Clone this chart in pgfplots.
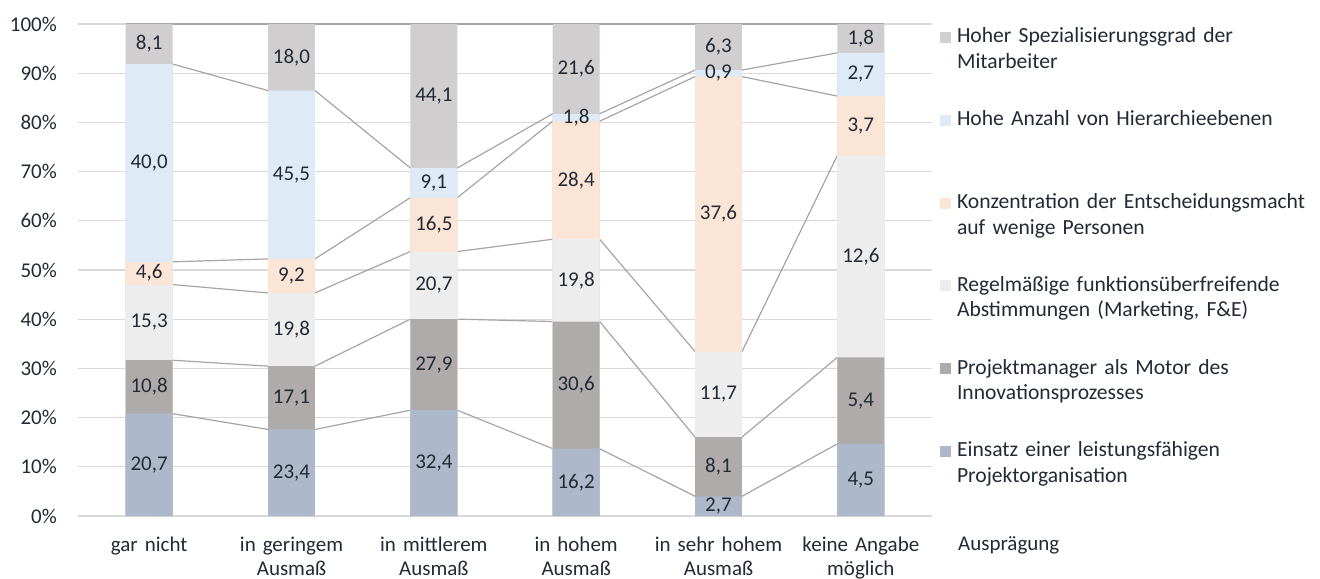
\documentclass[border=0pt]{standalone}
\usepackage{fontspec}
\setmainfont{Carlito}
\usepackage{pgfplots}
\pgfplotsset{compat=1.18}
\usepackage{pgfplotstable}

\definecolor{txt}{HTML}{222A35}
\definecolor{gridc}{HTML}{D9D9D9}
\definecolor{serl}{HTML}{A5A5A5}
\definecolor{cA}{HTML}{ADB9CA}
\definecolor{cB}{HTML}{AFABAB}
\definecolor{cC}{HTML}{EDEDED}
\definecolor{cD}{HTML}{FBE5D6}
\definecolor{cE}{HTML}{DEEBF7}
\definecolor{cF}{HTML}{D0CECE}

% answers per category (x = category index)
\pgfplotstableread{
x a b c d e f
0 20.7 10.8 15.3 4.6 40.0 8.1
1 23.4 17.1 19.8 9.2 45.5 18.0
2 32.4 27.9 20.7 16.5 9.1 44.1
3 16.2 30.6 19.8 28.4 1.8 21.6
4 2.7 8.1 11.7 37.6 0.9 6.3
5 4.5 5.4 12.6 3.7 2.7 1.8
}\data

% the same rows at the left and right edge of each bar, for the series lines
\pgfplotstableread{
x a b c d e f
-0.165 20.7 10.8 15.3 4.6 40.0 8.1
0.165 20.7 10.8 15.3 4.6 40.0 8.1
0.835 23.4 17.1 19.8 9.2 45.5 18.0
1.165 23.4 17.1 19.8 9.2 45.5 18.0
1.835 32.4 27.9 20.7 16.5 9.1 44.1
2.165 32.4 27.9 20.7 16.5 9.1 44.1
2.835 16.2 30.6 19.8 28.4 1.8 21.6
3.165 16.2 30.6 19.8 28.4 1.8 21.6
3.835 2.7 8.1 11.7 37.6 0.9 6.3
4.165 2.7 8.1 11.7 37.6 0.9 6.3
4.835 4.5 5.4 12.6 3.7 2.7 1.8
5.165 4.5 5.4 12.6 3.7 2.7 1.8
}\edges

% cumulative sums of a row
\newcommand{\cumA}{(\thisrow{a})}
\newcommand{\cumB}{(\thisrow{a}+\thisrow{b})}
\newcommand{\cumC}{(\thisrow{a}+\thisrow{b}+\thisrow{c})}
\newcommand{\cumD}{(\thisrow{a}+\thisrow{b}+\thisrow{c}+\thisrow{d})}
\newcommand{\cumE}{(\thisrow{a}+\thisrow{b}+\thisrow{c}+\thisrow{d}+\thisrow{e})}
\newcommand{\tot}{(\thisrow{a}+\thisrow{b}+\thisrow{c}+\thisrow{d}+\thisrow{e}+\thisrow{f})}

\pgfplotsset{
  segbar/.style={ybar, bar width=0.33, bar shift=0pt, fill=#1, draw=none},
  serline/.style={draw=serl, line width=1.2bp, mark=none, forget plot},
  seglabel/.style={only marks, mark=*, mark size=0pt,
    scatter/use mapped color={draw=none, fill=none},
    mark options={draw=none, fill=none},
    point meta=explicit, forget plot,
    nodes near coords={\pgfmathprintnumber[fixed, fixed zerofill, precision=1, use comma]{\pgfplotspointmeta}},
    every node near coord/.append style={anchor=center, inner sep=0pt, text=txt}},
}

\begin{document}
\begin{tikzpicture}[font=\fontsize{21bp}{25.6bp}\selectfont]
\begin{axis}[
  at={(78bp,63bp)}, anchor=south west,
  scale only axis, width=854bp, height=492bp,
  xmin=-0.5, xmax=5.5, ymin=0, ymax=100,
  clip=false,
  axis line style={draw=none},
  major tick length=0pt,
  ymajorgrids, grid style={draw=gridc, line width=1.2bp},
  ytick={0,10,...,100},
  yticklabel={\pgfmathprintnumber{\tick}\%},
  /pgf/number format/assume math mode=true,
  yticklabel style={anchor=east, inner sep=0pt, xshift=-21bp, text=txt},
  xtick={0,...,5},
  xticklabels={gar nicht, {in geringem\\Ausmaß}, {in mittlerem\\Ausmaß},
    {in hohem\\Ausmaß}, {in sehr hohem\\Ausmaß}, {keine Angabe\\möglich}},
  xticklabel style={text width=150bp, align=center, anchor=base, inner sep=0pt,
    font=\fontsize{21bp}{24.5bp}\selectfont, yshift=-35bp, text=txt},
  xlabel={Ausprägung},
  xlabel style={at={(axis description cs:1.0304,-0.0691)}, anchor=base west,
    inner sep=0pt, text=txt},
  legend style={at={(axis description cs:1.0094,0.992)}, anchor=north west,
    draw=none, fill=none, inner sep=0pt, outer sep=0pt,
    row sep=7.8bp, column sep=6bp,
    cells={anchor=base west},
    nodes={inner sep=0pt, text=txt, text width=370bp, align=left,
      font=\fontsize{21.6bp}{25.6bp}\selectfont,
      text height=15bp, text depth=60bp}},
  legend image code/.code={\fill[#1] (0bp,0bp) rectangle (11bp,11bp);},
]
% series lines between neighbouring bars
\addplot[serline] table[x=x, y expr={100*\cumA/\tot}] {\edges};
\addplot[serline] table[x=x, y expr={100*\cumB/\tot}] {\edges};
\addplot[serline] table[x=x, y expr={100*\cumC/\tot}] {\edges};
\addplot[serline] table[x=x, y expr={100*\cumD/\tot}] {\edges};
\addplot[serline] table[x=x, y expr={100*\cumE/\tot}] {\edges};
\addplot[serline] table[x=x, y expr={100*\tot/\tot}] {\edges};

% 100 % stacked columns, drawn from the top share downwards
\addplot[segbar=cF] table[x=x, y expr={100*\tot/\tot}] {\data};
\addlegendentry{Hoher Spezialisierungsgrad der\\Mitarbeiter}
\addplot[segbar=cE] table[x=x, y expr={100*\cumE/\tot}] {\data};
\addlegendentry{Hohe Anzahl von Hierarchieebenen}
\addplot[segbar=cD] table[x=x, y expr={100*\cumD/\tot}] {\data};
\addlegendentry{Konzentration der Entscheidungsmacht\\auf wenige Personen}
\addplot[segbar=cC] table[x=x, y expr={100*\cumC/\tot}] {\data};
\addlegendentry{Regelmäßige funktionsüberfreifende\\Abstimmungen (Marketing, F\&E)}
\addplot[segbar=cB] table[x=x, y expr={100*\cumB/\tot}] {\data};
\addlegendentry{Projektmanager als Motor des\\Innovationsprozesses}
\addplot[segbar=cA] table[x=x, y expr={100*\cumA/\tot}] {\data};
\addlegendentry{Einsatz einer leistungsfähigen\\Projektorganisation}

% value labels in the middle of each segment
\addplot[seglabel] table[x=x, y expr={100*(\cumA-0.5*\thisrow{a})/\tot}, meta=a] {\data};
\addplot[seglabel] table[x=x, y expr={100*(\cumB-0.5*\thisrow{b})/\tot}, meta=b] {\data};
\addplot[seglabel] table[x=x, y expr={100*(\cumC-0.5*\thisrow{c})/\tot}, meta=c] {\data};
\addplot[seglabel] table[x=x, y expr={100*(\cumD-0.5*\thisrow{d})/\tot}, meta=d] {\data};
\addplot[seglabel] table[x=x, y expr={100*(\cumE-0.5*\thisrow{e})/\tot}, meta=e] {\data};
\addplot[seglabel] table[x=x, y expr={100*(\tot-0.5*\thisrow{f})/\tot}, meta=f] {\data};
\end{axis}
\pgfresetboundingbox
\path[use as bounding box] (0,0) rectangle (1320bp,579bp);
\end{tikzpicture}
\end{document}
